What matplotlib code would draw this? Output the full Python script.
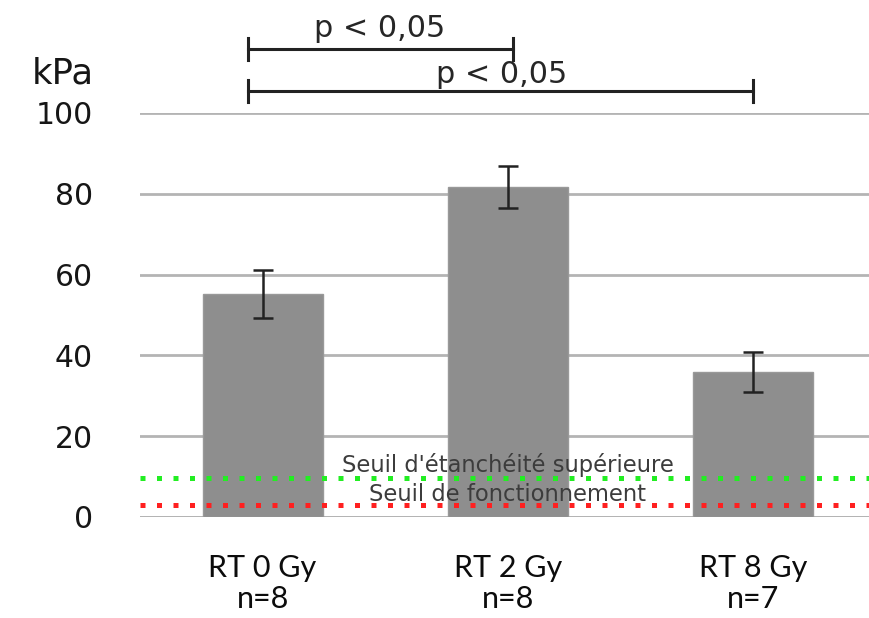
import matplotlib
matplotlib.use("Agg")
import matplotlib.pyplot as plt
import numpy as np

# values
groups = ["RT 0 Gy", "RT 2 Gy", "RT 8 Gy"]
counts = ["n=8", "n=8", "n=7"]
means = [55.2, 81.7, 35.9]
errors = [6.0, 5.3, 5.0]
yticks = [0, 20, 40, 60, 80, 100]
seuil_etanch = 9.65
seuil_fonct = 3.0
sig_pairs = [(0, 1), (0, 2)]
sig_label = "p < 0,05"

fig = plt.figure(figsize=(8.7, 6.18), dpi=100)
ax = fig.add_axes([140 / 870, 101 / 618, 730 / 870, 404 / 618])

x = np.arange(len(groups))
ax.bar(x, means, width=0.49, color="#8e8e8e", edgecolor="#999999", linewidth=1, zorder=2)
ax.errorbar(x, means, yerr=errors, fmt="none", ecolor="#222222",
            elinewidth=1.8, capsize=7, capthick=1.8, zorder=3)

# seuils
ax.axhline(seuil_etanch, color="#22ee22", lw=3.6, linestyle=(0, (1, 2.3)), zorder=4)
ax.axhline(seuil_fonct, color="#ff2020", lw=3.6, linestyle=(0, (1, 2.3)), zorder=4)
ax.text(1.0, 12.9, "Seuil d'étanchéité supérieure", ha="center", va="center",
        fontsize=16.3, color="#3c3c3c", family="DejaVu Sans", zorder=5)
ax.text(1.0, 5.45, "Seuil de fonctionnement", ha="center", va="center",
        fontsize=16.3, color="#3c3c3c", family="DejaVu Sans", zorder=5)

ax.set_xlim(-0.5, 2.477)
ax.set_ylim(0, 100)
ax.set_yticks(yticks)
ax.yaxis.grid(True, color="#b4b4b4", lw=2)
ax.set_axisbelow(True)
for s in ax.spines.values():
    s.set_visible(False)
ax.axhline(0, color="#b4b4b4", lw=2, zorder=1)
ax.tick_params(axis="y", length=0, pad=34, labelsize=21.5, labelcolor="#161616")
for lab in ax.get_yticklabels():
    lab.set_family("DejaVu Sans")
ax.set_xticks(x)
ax.set_xticklabels([g + "\n" + n for g, n in zip(groups, counts)],
                   fontsize=22, family="Lato", color="#0c0c0c", linespacing=1.1)
ax.tick_params(axis="x", length=0, pad=27)

fig.text(94 / 870, 1 - 73 / 618, "kPa", ha="right", va="center",
         fontsize=25.5, family="DejaVu Sans", color="#161616")

# significance brackets
levels = [115.8, 105.4]
for (a, b), yl in zip(sig_pairs, levels):
    xa, xb = a - 0.06, b + (0.02 if b == 1 else 0.0)
    ax.plot([xa, xb], [yl, yl], color="#222222", lw=2.2, clip_on=False)
    for xx in (xa, xb):
        ax.plot([xx, xx], [yl - 2.7, yl + 2.7], color="#222222", lw=2.2, clip_on=False)
ax.text(0.477, 120.9, sig_label, ha="center", va="center", fontsize=21.8,
        family="DejaVu Sans", color="#262626")
ax.text(0.973, 109.6, sig_label, ha="center", va="center", fontsize=21.8,
        family="DejaVu Sans", color="#262626")

fig.savefig("out.png", dpi=100)
